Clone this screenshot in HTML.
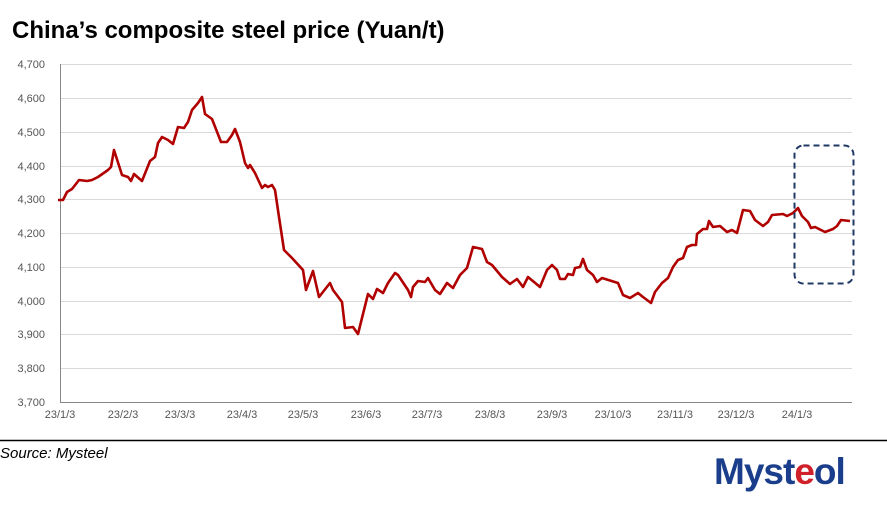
<!DOCTYPE html>
<html><head><meta charset="utf-8"><style>
body{margin:0;background:#fff;width:887px;height:500px;overflow:hidden;font-family:"Liberation Sans",Arial,sans-serif}
</style></head><body>
<svg width="887" height="500" xmlns="http://www.w3.org/2000/svg" font-family="Liberation Sans, Arial, sans-serif">
<text x="12" y="38" font-size="24" font-weight="bold" fill="#000">China’s composite steel price (Yuan/t)</text>
<g stroke="#d9d9d9" stroke-width="1">
<line x1="60" x2="852" y1="64.5" y2="64.5"/><line x1="60" x2="852" y1="98.5" y2="98.5"/><line x1="60" x2="852" y1="132.5" y2="132.5"/><line x1="60" x2="852" y1="166.5" y2="166.5"/><line x1="60" x2="852" y1="199.5" y2="199.5"/><line x1="60" x2="852" y1="233.5" y2="233.5"/><line x1="60" x2="852" y1="267.5" y2="267.5"/><line x1="60" x2="852" y1="301.5" y2="301.5"/><line x1="60" x2="852" y1="334.5" y2="334.5"/><line x1="60" x2="852" y1="368.5" y2="368.5"/>
</g>
<g stroke="#888" stroke-width="1">
<line x1="60.5" x2="60.5" y1="64" y2="402"/><line x1="60" x2="852" y1="402.5" y2="402.5"/>
</g>
<g font-size="11" fill="#555" text-anchor="end">
<text x="45" y="68">4,700</text><text x="45" y="102">4,600</text><text x="45" y="136">4,500</text><text x="45" y="170">4,400</text><text x="45" y="203">4,300</text><text x="45" y="237">4,200</text><text x="45" y="271">4,100</text><text x="45" y="305">4,000</text><text x="45" y="338">3,900</text><text x="45" y="372">3,800</text><text x="45" y="406">3,700</text>
</g>
<g font-size="11" fill="#555" text-anchor="middle">
<text x="60" y="418">23/1/3</text><text x="123" y="418">23/2/3</text><text x="180" y="418">23/3/3</text><text x="242" y="418">23/4/3</text><text x="303" y="418">23/5/3</text><text x="366" y="418">23/6/3</text><text x="427" y="418">23/7/3</text><text x="490" y="418">23/8/3</text><text x="552" y="418">23/9/3</text><text x="613" y="418">23/10/3</text><text x="675" y="418">23/11/3</text><text x="736" y="418">23/12/3</text><text x="797" y="418">24/1/3</text>
</g>
<polyline fill="none" stroke="#b00000" stroke-width="2.6" stroke-linejoin="round" points="58,200 63,200 67,192 72,189 79,180 87,181 92,180 98,177 108,170 111,167 114,150 122,175 128,177 131,181 134,174 142,181 150,161 155,157 158,143 162,137 168,140 173,144 178,127 184,128 188,122 192,110 198,103 202,97 205,114 212,119 221,142 227,142 232,135 235,129 240,142 245,163 248,168 250,165 255,173 262,188 265,185 268,187 272,185 275,190 279,217 284,250 288,254 292,258 303,270 306,290 313,271 319,297 330,283 333,290 342,302 345,328 353,327 358,334 368,294 373,299 377,289 383,293 388,283 395,273 398,275 408,290 411,297 413,287 418,281 425,282 428,278 435,290 440,294 447,283 453,288 460,275 467,268 473,247 482,249 487,262 492,265 502,277 510,284 517,279 523,287 528,277 540,287 547,270 552,265 557,270 560,279 565,279 568,274 573,275 575,268 580,267 583,259 587,270 593,275 597,282 602,278 618,283 623,295 630,298 638,293 643,297 651,303 655,292 662,283 668,278 673,267 678,260 683,258 687,247 692,245 696,245 697,234 703,229 707,229 709,221 713,227 720,226 727,232 732,230 737,233 743,210 750,211 755,220 763,226 768,222 772,215 783,214 787,216 793,213 798,208 802,216 808,222 811,228 815,227 825,232 833,229 837,226 841,220 850,221"/>
<rect x="794.5" y="145.5" width="59" height="138" rx="9" fill="none" stroke="#1f3864" stroke-width="2" stroke-dasharray="6,4"/>
<line x1="0" x2="887" y1="440.5" y2="440.5" stroke="#000" stroke-width="1.5"/>
<text x="0" y="458" font-size="15" font-style="italic" fill="#000">Source: Mysteel</text>
<text x="714" y="484" font-size="37" font-weight="bold" fill="#1a3e8c" letter-spacing="-1">Myst<tspan fill="#d0202a">e</tspan>ol</text>
</svg>
</body></html>
